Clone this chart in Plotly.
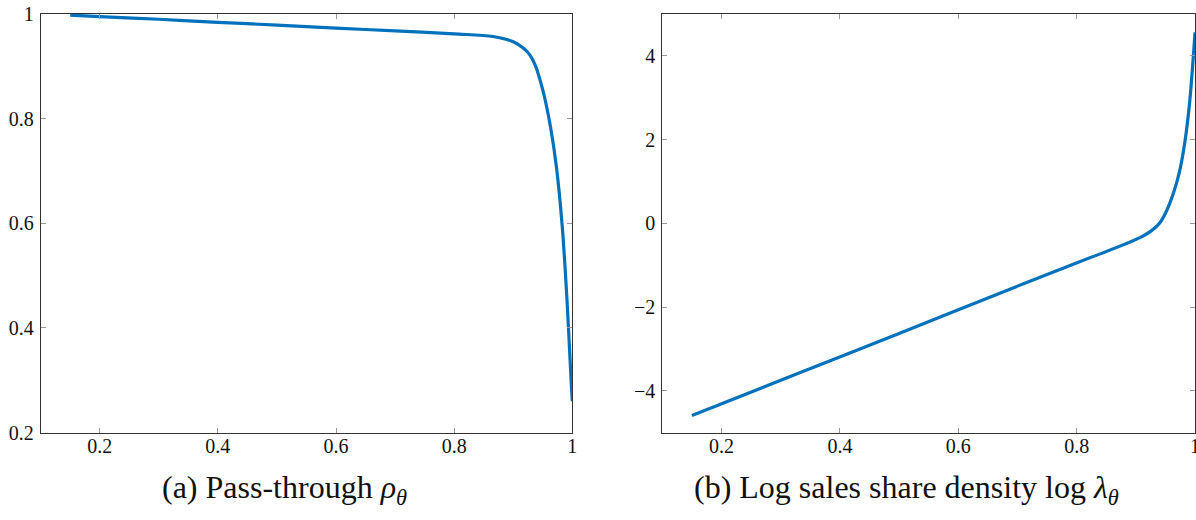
import plotly.graph_objects as go
from plotly.subplots import make_subplots

# values
theta_a = [0.15, 0.2, 0.3, 0.4, 0.5, 0.6, 0.7, 0.8, 0.866, 0.9, 0.918, 0.928, 0.937,
           0.950, 0.963, 0.973, 0.983, 0.991, 0.998, 1.0]
pass_through = [0.998, 0.995, 0.990, 0.984, 0.979, 0.973, 0.968, 0.962, 0.957,
                0.947, 0.934, 0.922, 0.903, 0.855, 0.785, 0.709, 0.594, 0.454, 0.30, 0.26]

theta_b = [0.15, 0.3, 0.5, 0.7, 0.805, 0.907, 0.926, 0.941, 0.952, 0.963, 0.974,
           0.983, 0.991, 1.0]
log_density = [-4.59, -3.75, -2.63, -1.50, -0.92, -0.34, -0.18, 0.02, 0.30, 0.70,
               1.25, 1.96, 2.91, 4.56]

x_ticks = [0.2, 0.4, 0.6, 0.8, 1.0]
x_labels = ["0.2", "0.4", "0.6", "0.8", "1"]
ya_ticks = [0.2, 0.4, 0.6, 0.8, 1.0]
ya_labels = ["0.2", "0.4", "0.6", "0.8", "1"]
yb_ticks = [-4, -2, 0, 2, 4]
yb_labels = ["\u22124", "\u22122", "0", "2", "4"]

BLUE = "#0072BD"
FONT = "Liberation Serif, DejaVu Serif, serif"

fig = make_subplots(rows=1, cols=2)

fig.add_trace(go.Scatter(x=theta_a, y=pass_through, mode="lines",
                         line=dict(color=BLUE, width=3.2, shape="spline", smoothing=0.9)),
              row=1, col=1)
fig.add_trace(go.Scatter(x=theta_b, y=log_density, mode="lines",
                         line=dict(color=BLUE, width=3.2, shape="spline", smoothing=0.9)),
              row=1, col=2)

axis_style = dict(showgrid=False, zeroline=False, showline=True, linecolor="#333",
                  linewidth=1, mirror="ticks", ticks="inside", ticklen=5,
                  tickcolor="#999", tickwidth=1, automargin=False,
                  ticklabeloverflow="allow",
                  tickfont=dict(family=FONT, size=20, color="#111"))

fig.update_xaxes(range=[0.1, 1.0], tickvals=x_ticks, ticktext=x_labels,
                 ticklabelstandoff=-5, **axis_style)
fig.update_xaxes(domain=[0.034, 0.4785], row=1, col=1)
fig.update_xaxes(domain=[0.5538, 0.9992], row=1, col=2)
fig.update_yaxes(domain=[0.168, 0.973], ticklabelstandoff=2, **axis_style)
fig.update_yaxes(range=[0.2, 1.0], tickvals=ya_ticks, ticktext=ya_labels, row=1, col=1)
fig.update_yaxes(range=[-5, 5], tickvals=yb_ticks, ticktext=yb_labels, row=1, col=2)

fig.add_annotation(text="(a) Pass-through <i>\u03c1<sub>\u03b8</sub></i>",
                   xref="paper", yref="paper", x=0.2375, y=0.058,
                   xanchor="center", yanchor="middle", showarrow=False,
                   font=dict(family=FONT, size=32, color="#111"))
fig.add_annotation(text="(b) Log sales share density log <i>\u03bb<sub>\u03b8</sub></i>",
                   xref="paper", yref="paper", x=0.758, y=0.058,
                   xanchor="center", yanchor="middle", showarrow=False,
                   font=dict(family=FONT, size=32, color="#111"))

fig.update_layout(width=1196, height=520, margin=dict(l=0, r=0, t=0, b=0, autoexpand=False),
                  font=dict(family=FONT, size=20, color="#111"),
                  paper_bgcolor="white", plot_bgcolor="white", showlegend=False)

# drop the default page margin so the figure sits flush in the window
fig.write_html("out.html", config={"displayModeBar": False},
               post_script="document.body.style.margin='0';")
